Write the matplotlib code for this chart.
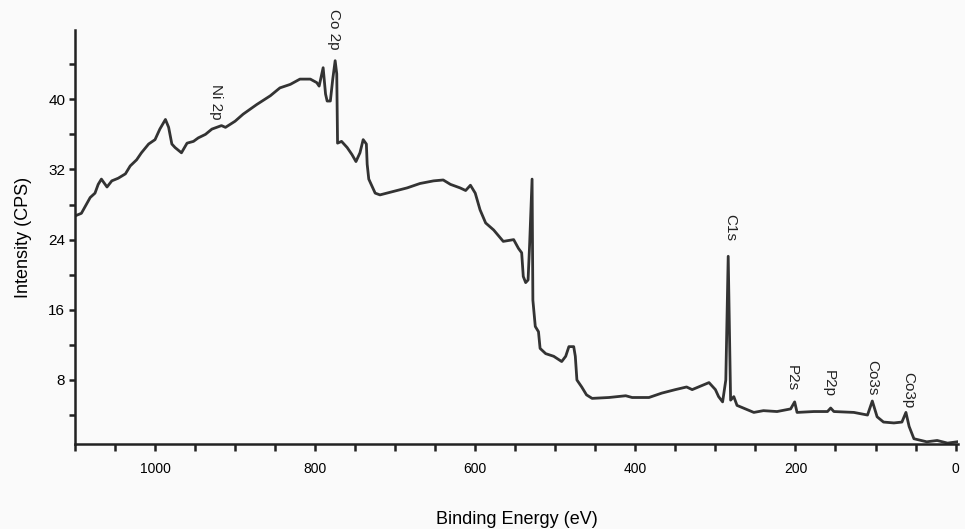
import numpy as np
import matplotlib
matplotlib.use("Agg")
import matplotlib.pyplot as plt
from matplotlib.ticker import MultipleLocator

plt.rcParams['font.family'] = ['Liberation Sans', 'DejaVu Sans']

# XPS survey spectrum (binding energy in eV, intensity in CPS)
energy = [1100, 1092, 1081, 1075, 1071, 1067, 1060, 1054, 1046, 1037, 1031, 1023,
          1017, 1008, 1000, 994, 987, 983, 979, 975, 967, 960, 952, 946, 937, 929,
          917, 912, 900, 890, 873, 856, 844, 831, 819, 806, 798, 795, 790, 787,
          785, 781, 778, 775, 773, 772, 767, 760, 754, 749, 744, 740, 736, 735,
          733, 729, 725, 719, 702, 685, 669, 652, 640, 631, 619, 612, 606, 600,
          594, 587, 577, 565, 552, 546, 542, 540, 537, 534, 532, 529, 528, 525,
          521, 519, 512, 502, 492, 487, 483, 477, 475, 473, 467, 461, 454, 433,
          412, 404, 383, 367, 350, 336, 329, 308, 300, 296, 291, 287, 284, 281,
          277, 273, 260, 252, 240, 223, 206, 201, 198, 177, 160, 156, 152, 127,
          110, 104, 98, 90, 77, 67, 62, 58, 52, 36, 23, 10, -2]
intensity = [26.7, 27.0, 28.8, 29.3, 30.3, 30.9, 30.0, 30.7, 31.0, 31.5, 32.4, 33.1,
             33.9, 34.9, 35.4, 36.6, 37.7, 36.8, 34.9, 34.5, 33.9, 35.0, 35.2, 35.6,
             36.0, 36.6, 37.0, 36.8, 37.5, 38.3, 39.4, 40.4, 41.3, 41.7, 42.3, 42.3,
             41.9, 41.5, 43.6, 40.6, 39.8, 39.8, 42.3, 44.4, 42.9, 35.0, 35.2, 34.5,
             33.7, 32.9, 33.9, 35.4, 34.9, 32.6, 30.9, 30.1, 29.3, 29.1, 29.5, 29.9,
             30.4, 30.7, 30.8, 30.3, 29.9, 29.6, 30.2, 29.3, 27.4, 25.9, 25.1, 23.8,
             24.0, 23.0, 22.5, 19.8, 19.1, 19.4, 23.6, 30.9, 17.1, 14.1, 13.5, 11.6,
             11.0, 10.7, 10.1, 10.7, 11.8, 11.8, 10.7, 8.0, 7.2, 6.3, 5.9, 6.0, 6.2,
             6.0, 6.0, 6.5, 6.9, 7.2, 6.9, 7.7, 6.9, 6.1, 5.5, 8.0, 22.1, 5.7, 6.1,
             5.1, 4.6, 4.3, 4.5, 4.4, 4.7, 5.5, 4.3, 4.4, 4.4, 4.8, 4.4, 4.3, 4.0,
             5.6, 3.8, 3.2, 3.1, 3.2, 4.3, 2.7, 1.3, 0.95, 1.1, 0.8, 0.95]

# peak labels: name, energy, top of text
peak_names = ['Co 2p', 'Ni 2p', 'C1s', 'P2s', 'P2p', 'Co3s', 'Co3p']
peak_pos = [777, 924, 281, 204, 159, 104, 59]
peak_top = [50.3, 41.7, 26.9, 9.7, 9.1, 10.3, 8.9]

fig = plt.figure(figsize=(9.65, 5.29), dpi=100, facecolor='#fafafa')
ax = fig.add_axes([0.0777, 0.1607, 0.915, 0.7826])
ax.set_facecolor('#fafafa')

ax.plot(energy, intensity, color='#333333', lw=2.0)

ax.set_xlim(1100, -3)
ax.set_ylim(0.7, 47.9)
ax.xaxis.set_major_locator(MultipleLocator(200))
ax.xaxis.set_minor_locator(MultipleLocator(50))
ax.yaxis.set_major_locator(MultipleLocator(8))
ax.yaxis.set_minor_locator(MultipleLocator(4))

for s in ['top', 'right']:
    ax.spines[s].set_visible(False)
for s in ['left', 'bottom']:
    ax.spines[s].set_linewidth(1.8)
    ax.spines[s].set_color('#222222')

ax.tick_params(axis='both', which='both', direction='out', color='#222222', width=1.8)
ax.tick_params(axis='x', which='both', length=5, labelsize=10, pad=8)
ax.tick_params(axis='y', which='both', length=4, labelsize=11, pad=3)

ax.set_xlabel('Binding Energy (eV)', fontsize=13, labelpad=25)
ax.set_ylabel('Intensity (CPS)', fontsize=13, labelpad=12)

for name, x, y in zip(peak_names, peak_pos, peak_top):
    ax.text(x, y, name, rotation=-90, ha='center', va='top', fontsize=11,
            color='#222222', clip_on=False)

fig.savefig('out.png', dpi=100, facecolor=fig.get_facecolor())
